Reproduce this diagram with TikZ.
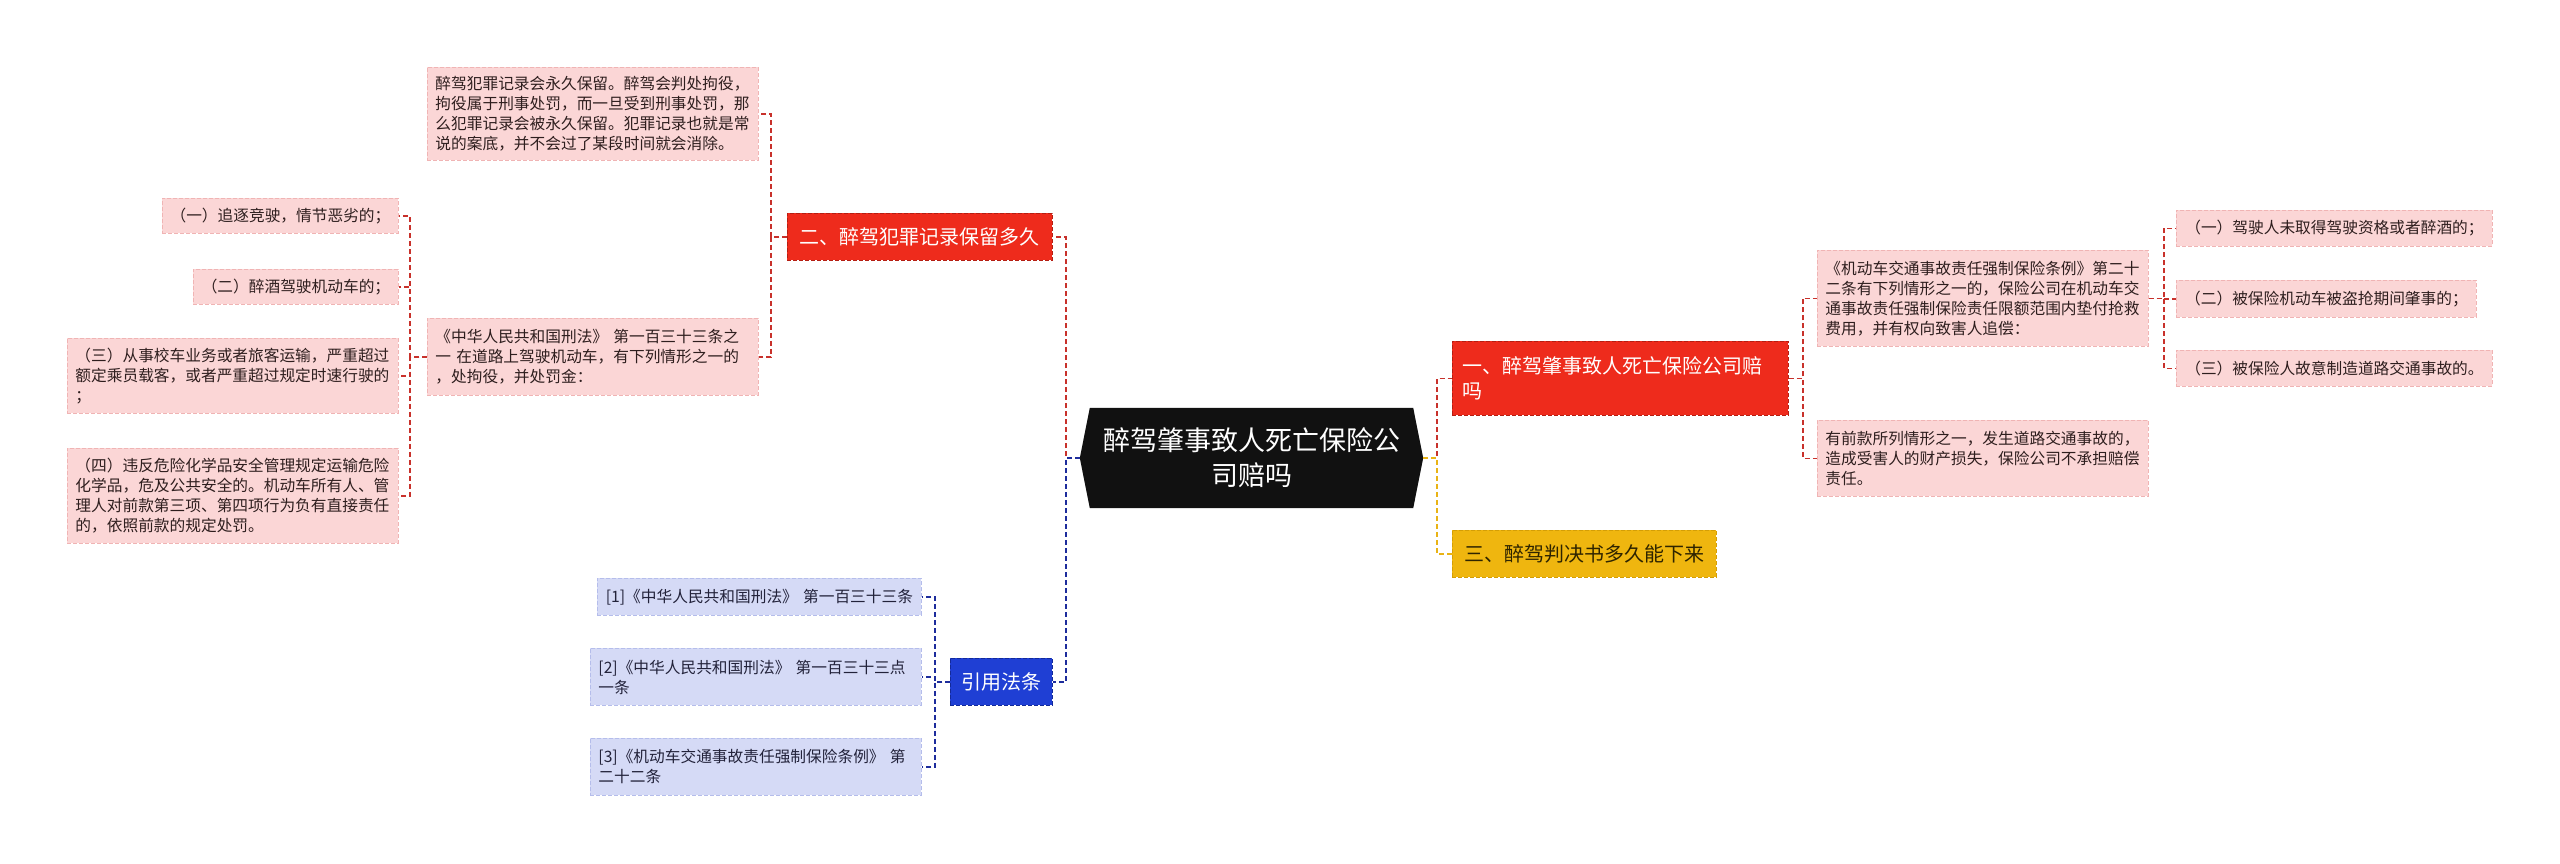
\documentclass[tikz,border=0pt]{standalone}
\usepackage{fontspec}
\setmainfont{Noto Sans CJK SC}
\usetikzlibrary{backgrounds}
\definecolor{pinkfill}{HTML}{FBD6D6}
\definecolor{pinkdraw}{HTML}{F0B4B4}
\definecolor{pinktext}{HTML}{2E1E1E}
\definecolor{lavfill}{HTML}{D5DAF6}
\definecolor{lavdraw}{HTML}{B5BDEB}
\definecolor{lavtext}{HTML}{22223A}
\definecolor{redfill}{HTML}{EE2B1C}
\definecolor{reddraw}{HTML}{B51E12}
\definecolor{bluefill}{HTML}{1F3FD4}
\definecolor{bluedraw}{HTML}{132A9A}
\definecolor{yelfill}{HTML}{EFB60F}
\definecolor{yeldraw}{HTML}{D49E05}
\definecolor{yeltext}{HTML}{2E2400}
\definecolor{redline}{HTML}{C8312B}
\definecolor{blueline}{HTML}{1D2C9C}
\definecolor{yelline}{HTML}{E9B315}
\definecolor{rootfill}{HTML}{111111}
\begin{document}
\begin{tikzpicture}[x=1pt,y=-1pt,
  box/.style={draw, dash pattern=on 4pt off 2pt, line width=0.9pt, inner xsep=8pt, inner ysep=0pt, anchor=north west, font=\fontsize{15.7}{20}\selectfont},
  pinkbox/.style={box, fill=pinkfill, draw=pinkdraw, text=pinktext},
  lavbox/.style={box, fill=lavfill, draw=lavdraw, text=lavtext},
  mainbox/.style={box, inner xsep=10pt, font=\fontsize{20}{25}\selectfont},
  redbox/.style={mainbox, fill=redfill, draw=reddraw, text=white},
  bluebox/.style={mainbox, fill=bluefill, draw=bluedraw, text=white},
  yelbox/.style={mainbox, fill=yelfill, draw=yeldraw, text=yeltext},
  conn/.style={line width=1.8pt, dash pattern=on 5pt off 3pt},
  rconn/.style={conn, draw=redline},
  bconn/.style={conn, draw=blueline},
  yconn/.style={conn, draw=yelline}
]
\useasboundingbox (0,0) rectangle (2560,863);

% root
\node[minimum width=343pt, minimum height=100pt, inner sep=0pt, text=white, align=center,
      font=\fontsize{27}{35}\selectfont] (root) at (1251.5,458) {醉驾肇事致人死亡保险公\\司赔吗};

% left branch: 二
\node[redbox, minimum width=265pt, minimum height=47pt, text width=245pt, align=center] (n2) at (787,213) {二、醉驾犯罪记录保留多久};
\node[pinkbox, minimum height=93pt, text width=315pt, align=left] (rec) at (427,67)
  {醉驾犯罪记录会永久保留。醉驾会判处拘役，\\拘役属于刑事处罚，而一旦受到刑事处罚，那\\么犯罪记录会被永久保留。犯罪记录也就是常\\说的案底，并不会过了某段时间就会消除。};
\node[pinkbox, minimum height=77pt, text width=315pt, align=left] (law) at (427,318)
  {《中华人民共和国刑法》 第一百三十三条之\\一 在道路上驾驶机动车，有下列情形之一的\\，处拘役，并处罚金：};
\node[pinkbox, minimum height=35pt, text width=220pt, align=center] (c1) at (162,198) {（一）追逐竞驶，情节恶劣的；};
\node[pinkbox, minimum height=35pt, text width=189pt, align=center] (c2) at (193,269) {（二）醉酒驾驶机动车的；};
\node[pinkbox, minimum height=75pt, text width=315pt, align=left] (c3) at (67,338)
  {（三）从事校车业务或者旅客运输，严重超过\\额定乘员载客，或者严重超过规定时速行驶的\\；};
\node[pinkbox, minimum height=95pt, text width=315pt, align=left] (c4) at (67,448)
  {（四）违反危险化学品安全管理规定运输危险\\化学品，危及公共安全的。机动车所有人、管\\理人对前款第三项、第四项行为负有直接责任\\的，依照前款的规定处罚。};

% left branch: 引用法条
\node[bluebox, minimum width=102pt, minimum height=47pt, text width=82pt, align=center] (cite) at (950,658) {引用法条};
\node[lavbox, minimum height=37pt, text width=308pt, align=center] (r1) at (597,578) {[1]《中华人民共和国刑法》 第一百三十三条};
\node[lavbox, minimum height=57pt, text width=315pt, align=left] (r2) at (590,648) {[2]《中华人民共和国刑法》 第一百三十三点\\一条};
\node[lavbox, minimum height=57pt, text width=315pt, align=left] (r3) at (590,738) {[3]《机动车交通事故责任强制保险条例》 第\\二十二条};

% right branch: 一
\node[redbox, minimum height=74pt, text width=316pt, align=left] (n1) at (1452,341) {一、醉驾肇事致人死亡保险公司赔\\吗};
\node[pinkbox, minimum height=96pt, text width=315pt, align=left] (a) at (1817,250)
  {《机动车交通事故责任强制保险条例》第二十\\二条有下列情形之一的，保险公司在机动车交\\通事故责任强制保险责任限额范围内垫付抢救\\费用，并有权向致害人追偿：};
\node[pinkbox, minimum height=76pt, text width=315pt, align=left] (b) at (1817,420)
  {有前款所列情形之一，发生道路交通事故的，\\造成受害人的财产损失，保险公司不承担赔偿\\责任。};
\node[pinkbox, minimum height=36pt, text width=300pt, align=center] (l1) at (2176,210) {（一）驾驶人未取得驾驶资格或者醉酒的；};
\node[pinkbox, minimum height=37pt, text width=284pt, align=center] (l2) at (2176,280) {（二）被保险机动车被盗抢期间肇事的；};
\node[pinkbox, minimum height=36pt, text width=300pt, align=center] (l3) at (2176,350) {（三）被保险人故意制造道路交通事故的。};

% right branch: 三
\node[yelbox, minimum height=47pt, text width=244pt, align=center] (n3) at (1452,530) {三、醉驾判决书多久能下来};

% background + hexagon
\begin{scope}[on background layer]
  \fill[white] (0,0) rectangle (2560,863);
  \fill[rootfill] (root.west) -- ([xshift=10pt]root.north west) -- ([xshift=-10pt]root.north east)
    -- (root.east) -- ([xshift=-10pt]root.south east) -- ([xshift=10pt]root.south west) -- cycle;
\end{scope}

% connectors
\draw[rconn] (root.west) -- ([xshift=-14pt]root.west) |- (n2.east);
\draw[bconn] (root.west) -- ([xshift=-14pt]root.west) |- (cite.east);
\draw[rconn] (root.east) -- ([xshift=14pt]root.east) |- (n1.west);
\draw[yconn] (root.east) -- ([xshift=14pt]root.east) |- (n3.west);

\draw[rconn] (n2.west) -- ([xshift=-16pt]n2.west) |- (rec.east);
\draw[rconn] (n2.west) -- ([xshift=-16pt]n2.west) |- (law.east);

\draw[rconn] (law.west) -- ([xshift=-17pt]law.west) |- (c1.east);
\draw[rconn] (law.west) -- ([xshift=-17pt]law.west) |- (c2.east);
\draw[rconn] (law.west) -- ([xshift=-17pt]law.west) |- (c3.east);
\draw[rconn] (law.west) -- ([xshift=-17pt]law.west) |- (c4.east);

\draw[bconn] (cite.west) -- ([xshift=-15pt]cite.west) |- (r1.east);
\draw[bconn] (cite.west) -- ([xshift=-15pt]cite.west) |- (r2.east);
\draw[bconn] (cite.west) -- ([xshift=-15pt]cite.west) |- (r3.east);

\draw[rconn] (n1.east) -- ([xshift=14pt]n1.east) |- (a.west);
\draw[rconn] (n1.east) -- ([xshift=14pt]n1.east) |- (b.west);

\draw[rconn] (a.east) -- ([xshift=15pt]a.east) |- (l1.west);
\draw[rconn] (a.east) -- ([xshift=15pt]a.east) |- (l2.west);
\draw[rconn] (a.east) -- ([xshift=15pt]a.east) |- (l3.west);
\end{tikzpicture}
\end{document}
